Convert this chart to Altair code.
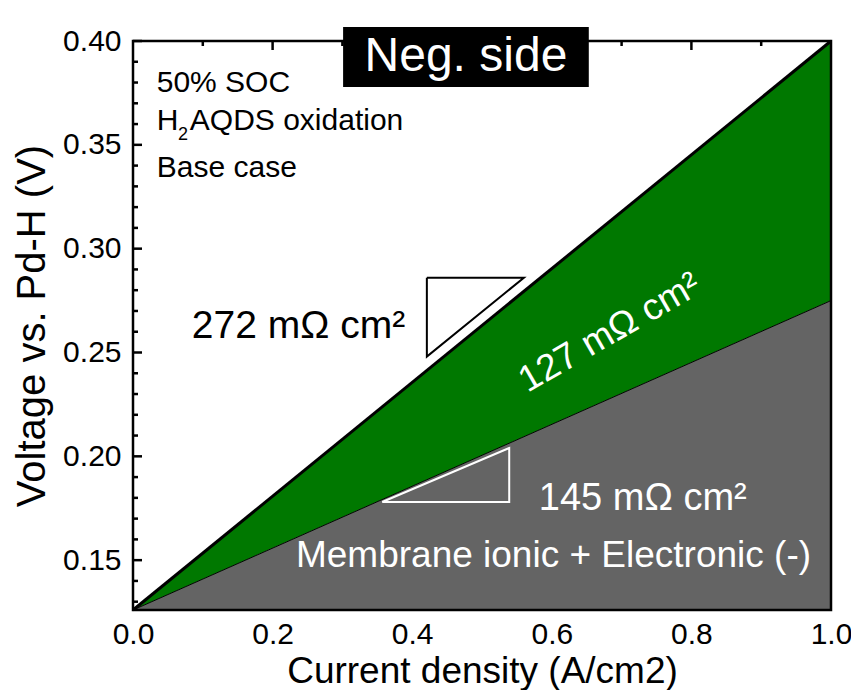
import altair as alt
import pandas as pd

FONT = "Liberation Sans"

# ---- data ----
X_LINE = [0.0, 1.0]
Y_TOTAL = [0.126, 0.400]      # total negative-side polarization line (272 mOhm cm2)
Y_MEMBRANE = [0.126, 0.275]   # membrane ionic + electronic line (145 mOhm cm2)
Y_MIN, Y_MAX = 0.126, 0.400

X_TICKS = [0.0, 0.2, 0.4, 0.6, 0.8, 1.0]
Y_TICKS = [0.15, 0.20, 0.25, 0.30, 0.35, 0.40]
Y_MINOR = [0.13, 0.14, 0.16, 0.17, 0.18, 0.19, 0.21, 0.22, 0.23, 0.24,
           0.26, 0.27, 0.28, 0.29, 0.31, 0.32, 0.33, 0.34, 0.36, 0.37, 0.38, 0.39]
X_TOP_MAJOR = [0.2, 0.4, 0.6, 0.8]
X_TOP_MINOR = [0.1, 0.3, 0.5, 0.7, 0.9]

TRI1_X = [0.421, 0.560, 0.421, 0.421]
TRI1_Y = [0.286, 0.286, 0.248, 0.286]
TRI2_X = [0.357, 0.539, 0.539, 0.357]
TRI2_Y = [0.178, 0.178, 0.204, 0.178]

W, H = 698, 569

xs = alt.Scale(domain=[0, 1], nice=False, zero=False)
ys = alt.Scale(domain=[Y_MIN, Y_MAX], nice=False, zero=False)

x_axis = alt.Axis(values=X_TICKS, format=".1f", title="Current density (A/cm2)",
                  ticks=False, domain=False, grid=False, labelFlush=False,
                  labelOverlap=False, labelFontSize=30, titleFontSize=37,
                  labelPadding=9, titlePadding=4, labelFont=FONT, titleFont=FONT,
                  labelColor="black", titleColor="black", titleFontWeight="normal")
y_axis = alt.Axis(values=Y_TICKS, format=".2f", title="Voltage vs. Pd-H (V)",
                  ticks=False, domain=False, grid=False, labelFlush=False,
                  labelOverlap=False, labelFontSize=30, titleFontSize=40,
                  labelPadding=12, titlePadding=10, labelFont=FONT, titleFont=FONT,
                  labelColor="black", titleColor="black", titleFontWeight="normal")


def X(f):
    return alt.X(f, type="quantitative", scale=xs, axis=x_axis)


def Y(f):
    return alt.Y(f, type="quantitative", scale=ys, axis=y_axis)


lines_df = pd.DataFrame({"x": X_LINE, "y": Y_TOTAL, "m": Y_MEMBRANE})
base = alt.Chart(lines_df)

# inward ticks (drawn first so filled areas cover them, as in the reference)
left_major = alt.Chart(pd.DataFrame({"y": Y_TICKS})).mark_rule(color="black", strokeWidth=2.5).encode(
    y=Y("y"), x=alt.value(0), x2=alt.value(9))
left_minor = alt.Chart(pd.DataFrame({"y": Y_MINOR})).mark_rule(color="black", strokeWidth=2.5).encode(
    y=Y("y"), x=alt.value(0), x2=alt.value(5))
top_major = alt.Chart(pd.DataFrame({"x": X_TOP_MAJOR})).mark_rule(color="black", strokeWidth=2.5).encode(
    x=X("x"), y=alt.value(0), y2=alt.value(9))
top_minor = alt.Chart(pd.DataFrame({"x": X_TOP_MINOR})).mark_rule(color="black", strokeWidth=2.5).encode(
    x=X("x"), y=alt.value(0), y2=alt.value(5))

gray = base.mark_area(color="#646464", opacity=1).encode(x=X("x"), y=Y("m"), y2=alt.datum(Y_MIN))
green = base.mark_area(color="#007800", opacity=1).encode(x=X("x"), y=Y("y"), y2=alt.Y2("m"))
top_line = base.mark_line(color="black", strokeWidth=3).encode(x=X("x"), y=Y("y"))
mid_line = base.mark_line(color="black", strokeWidth=1).encode(x=X("x"), y=Y("m"))

tri1 = alt.Chart(pd.DataFrame({"x": TRI1_X, "y": TRI1_Y, "i": [0, 1, 2, 3]})).mark_line(
    color="black", strokeWidth=2, strokeJoin="miter").encode(x=X("x"), y=Y("y"), order="i:Q")
tri2 = alt.Chart(pd.DataFrame({"x": TRI2_X, "y": TRI2_Y, "i": [0, 1, 2, 3]})).mark_line(
    color="white", strokeWidth=2, strokeJoin="miter").encode(x=X("x"), y=Y("y"), order="i:Q")

# plot frame
frame = alt.Chart(pd.DataFrame({"x": [0]})).mark_rect(
    fillOpacity=0, stroke="black", strokeWidth=2.5).encode(
    x=alt.value(0), x2=alt.value(W), y=alt.value(0), y2=alt.value(H))

# "Neg. side" box
box = alt.Chart(pd.DataFrame({"x": [0.301], "x2": [0.653], "y": [0.4067], "y2": [0.3779]})).mark_rect(
    color="black").encode(x=X("x"), x2="x2", y=Y("y"), y2="y2")


def txt(x, y, label, size, color="black", align="left", baseline="alphabetic", angle=0):
    return alt.Chart(pd.DataFrame({"x": [x], "y": [y], "t": [label]})).mark_text(
        font=FONT, fontSize=size, color=color, align=align, baseline=baseline, angle=angle
    ).encode(x=X("x"), y=Y("y"), text="t:N")


texts = [
    txt(0.477, 0.3923, "Neg. side", 48, color="white", align="center", baseline="middle"),
    txt(0.034, 0.3754, "50% SOC", 30),
    txt(0.034, 0.3571, "H", 30),
    txt(0.0643, 0.3523, "2", 18),
    txt(0.0814, 0.3571, "AQDS oxidation", 30),
    txt(0.034, 0.3345, "Base case", 30),
    txt(0.0843, 0.257, "272 mΩ cm²", 39),
    txt(0.683, 0.2594, "127 mΩ cm²", 37, color="white", align="center", baseline="middle", angle=330),
    txt(0.5814, 0.1742, "145 mΩ cm²", 38, color="white"),
    txt(0.9714, 0.1467, "Membrane ionic + Electronic (-)", 37, color="white", align="right"),
]

chart = alt.layer(
    left_major, left_minor, top_major, top_minor,
    gray, green, top_line, mid_line, tri1, tri2, frame, box, *texts
).properties(
    width=W, height=H,
    autosize=alt.AutoSizeParams(type="none"),
    padding={"left": 125, "top": 33, "right": 20, "bottom": 80},
    background="white",
).configure_view(
    stroke=None
)

chart.save("out.html", embed_options={"renderer": "svg", "actions": False})
